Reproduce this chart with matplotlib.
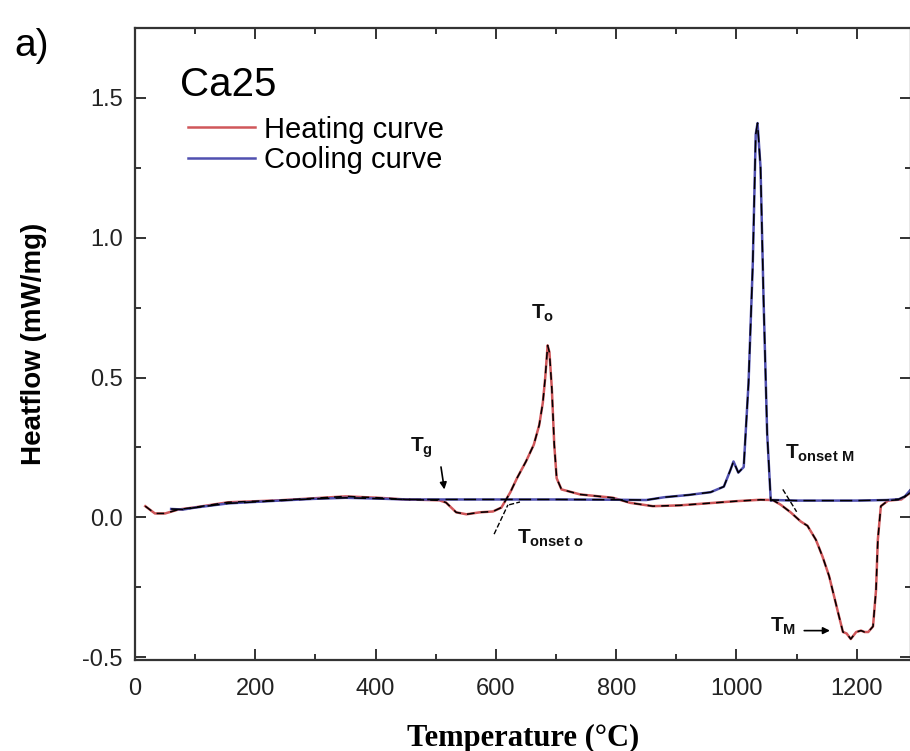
import matplotlib
matplotlib.use("Agg")
import matplotlib.pyplot as plt
from matplotlib.ticker import MultipleLocator

# heating curve (temperature in C, heatflow in mW/mg)
heat_t = [17, 33, 50, 72, 100, 155, 240, 295, 350, 405, 450, 490, 506, 517, 534,
          551, 573, 595, 609, 617, 624, 635, 650, 663, 672, 678, 682, 686, 689,
          693, 697, 701, 709, 740, 795, 823, 861, 906, 950, 1000, 1040, 1060,
          1073, 1090, 1107, 1118, 1132, 1143, 1154, 1162, 1170, 1177, 1183, 1190,
          1199, 1207, 1213, 1219, 1227, 1232, 1235, 1240, 1252, 1274, 1290]
heat_y = [0.040, 0.014, 0.014, 0.028, 0.036, 0.054, 0.061, 0.068, 0.075, 0.070,
          0.064, 0.062, 0.061, 0.053, 0.018, 0.011, 0.018, 0.021, 0.035, 0.064,
          0.090, 0.140, 0.200, 0.260, 0.330, 0.410, 0.500, 0.615, 0.590, 0.460,
          0.260, 0.140, 0.100, 0.082, 0.070, 0.052, 0.040, 0.043, 0.050, 0.058,
          0.063, 0.062, 0.046, 0.018, -0.015, -0.030, -0.080, -0.140, -0.210,
          -0.280, -0.350, -0.410, -0.415, -0.435, -0.410, -0.405, -0.410, -0.410,
          -0.390, -0.260, -0.080, 0.040, 0.060, 0.064, 0.090]

# cooling curve
cool_t = [60, 80, 100, 155, 240, 295, 350, 405, 450, 500, 600, 700, 800, 850, 880,
          920, 957, 979, 990, 995, 1003, 1012, 1020, 1027, 1032, 1035, 1040, 1045,
          1051, 1057, 1062, 1100, 1150, 1200, 1250, 1270, 1280, 1290]
cool_y = [0.030, 0.028, 0.035, 0.050, 0.060, 0.066, 0.070, 0.067, 0.064, 0.064,
          0.064, 0.064, 0.063, 0.062, 0.072, 0.080, 0.090, 0.110, 0.170, 0.200,
          0.160, 0.180, 0.480, 0.900, 1.370, 1.410, 1.250, 0.780, 0.300, 0.060,
          0.062, 0.060, 0.060, 0.060, 0.062, 0.065, 0.075, 0.100]

red = "#d0575a"
blue = "#5050b0"

plt.rcParams["font.family"] = "Liberation Sans"
plt.rcParams["axes.unicode_minus"] = False
plt.rcParams["mathtext.fontset"] = "custom"
plt.rcParams["mathtext.rm"] = "Liberation Sans"
plt.rcParams["mathtext.bf"] = "Liberation Sans:bold"

fig = plt.figure(figsize=(9.1, 7.51), dpi=100)
ax = fig.add_axes([0.1484, 0.1212, 0.8526, 0.8415])

ax.plot(heat_t, heat_y, color=red, lw=1.8, label="Heating curve")
ax.plot(cool_t, cool_y, color=blue, lw=1.8, label="Cooling curve")
ax.plot(heat_t, heat_y, color="black", lw=1.1, dashes=(5, 4))
ax.plot(cool_t, cool_y, color="black", lw=1.1, dashes=(8, 4))

# tangent lines used for onset temperatures
ax.plot([597, 620], [-0.06, 0.045], color="black", lw=1.0, ls="--")
ax.plot([622, 640], [0.045, 0.055], color="black", lw=1.0, ls="--")
ax.plot([1077, 1100], [0.10, 0.02], color="black", lw=1.0, ls="--")

ax.set_xlim(0, 1290)
ax.set_ylim(-0.51, 1.75)
ax.xaxis.set_major_locator(MultipleLocator(200))
ax.xaxis.set_minor_locator(MultipleLocator(100))
ax.yaxis.set_major_locator(MultipleLocator(0.5))
ax.yaxis.set_minor_locator(MultipleLocator(0.25))
ax.tick_params(which="both", direction="in", top=True, right=True, width=1.3,
               labelsize=17, colors="#222222")
ax.tick_params(which="major", length=8)
ax.tick_params(axis="x", which="major", pad=13)
ax.tick_params(axis="y", which="major", pad=9)
ax.tick_params(which="minor", length=4)
for s in ax.spines.values():
    s.set_linewidth(1.6)
    s.set_color("#333333")

ax.set_ylabel("Heatflow (mW/mg)", fontsize=20, fontweight="bold", labelpad=25)
ax.set_xlabel("Temperature (°C)", fontsize=22, fontweight="bold",
              family="Liberation Serif", labelpad=17)

fig.text(0.016, 0.925, "a)", fontsize=28)
ax.text(0.058, 0.893, "Ca25", fontsize=29, transform=ax.transAxes)
ax.legend(loc="upper left", bbox_to_anchor=(0.053, 0.88), frameon=False,
          fontsize=21, handlelength=2.3, handletextpad=0.3, labelspacing=0.1,
          borderaxespad=0)

ann = dict(fontsize=15, color="#111111")
ax.text(477, 0.25, r"$\mathbf{T}_{\mathbf{g}}$", ha="center", va="center", **ann)
ax.annotate("", xy=(515, 0.09), xytext=(508, 0.19),
            arrowprops=dict(arrowstyle="-|>", color="black", lw=1.2))
ax.text(677, 0.73, r"$\mathbf{T}_{\mathbf{o}}$", ha="center", va="center", **ann)
ax.text(635, -0.075, r"$\mathbf{T}_{\mathbf{onset\ o}}$", ha="left", va="center", **ann)
ax.text(1080, 0.23, r"$\mathbf{T}_{\mathbf{onset\ M}}$", ha="left", va="center", **ann)
ax.text(1055, -0.39, r"$\mathbf{T}_{\mathbf{M}}$", ha="left", va="center", **ann)
ax.annotate("", xy=(1160, -0.405), xytext=(1108, -0.405),
            arrowprops=dict(arrowstyle="-|>", color="black", lw=1.2))

fig.savefig("out.png", dpi=100)
